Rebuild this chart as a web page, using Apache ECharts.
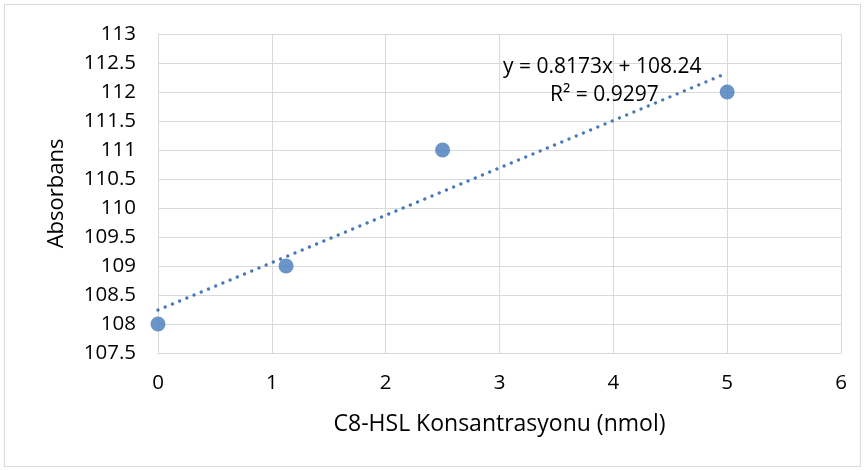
<!DOCTYPE html>
<html>
<head>
<meta charset="utf-8">
<script src="https://cdn.jsdelivr.net/npm/echarts@6/dist/echarts.min.js"></script>
<style>
  html, body { margin: 0; padding: 0; background: #fff; }
  .frame {
    position: absolute; left: 4px; top: 4px; width: 857px; height: 463px;
    border: 1px solid #d9d9d9; box-sizing: border-box;
  }
  #chart { position: absolute; left: 0; top: 0; width: 866px; height: 470px; }
</style>
</head>
<body>
<div class="frame"></div>
<div id="chart"></div>
<script>
// data
const concentrations = [0, 1.125, 2.5, 5];
const absorbance = [108, 109, 111, 112];
const trendSlope = 0.8173;
const trendIntercept = 108.24;
const trendLabel = ['y = 0.8173x + 108.24', 'R² = 0.9297'];

const font = "'Open Sans', sans-serif";
const blue = '#4679bb';

let points = concentrations.map((x, i) => [x, absorbance[i]]);
let xFirst = concentrations[0];
let xLast = concentrations[concentrations.length - 1];
let trendLine = [
  [xFirst, trendSlope * xFirst + trendIntercept],
  [xLast, trendSlope * xLast + trendIntercept]
];

let myChart = echarts.init(document.getElementById('chart'));
let option = {
  animation: false,
  grid: { left: 158, right: 25, top: 34, bottom: 117 },
  xAxis: {
    type: 'value',
    min: 0, max: 6, interval: 1,
    name: 'C8-HSL Konsantrasyonu (nmol)',
    nameLocation: 'middle',
    nameGap: 60,
    nameTextStyle: { fontFamily: font, fontSize: 23, color: '#000' },
    axisLine: { show: true, lineStyle: { color: '#d9d9d9', width: 1 } },
    axisTick: { show: false },
    axisLabel: { fontFamily: font, fontSize: 20.5, color: '#000', margin: 20 },
    splitLine: { show: true, lineStyle: { color: '#d9d9d9', width: 1 } }
  },
  yAxis: {
    type: 'value',
    min: 107.5, max: 113, interval: 0.5,
    name: 'Absorbans',
    nameLocation: 'middle',
    nameGap: 90,
    nameTextStyle: { fontFamily: font, fontSize: 22, color: '#000' },
    axisLine: { show: true, lineStyle: { color: '#d9d9d9', width: 1 } },
    axisTick: { show: false },
    axisLabel: { fontFamily: font, fontSize: 20.5, color: '#000', margin: 22 },
    splitLine: { show: true, lineStyle: { color: '#d9d9d9', width: 1 } }
  },
  series: [{
    type: 'line',
    data: trendLine,
    symbol: 'none',
    lineStyle: { color: blue, width: 3.3, type: [0.01, 7.8], cap: 'round' },
    z: 2
  }, {
    type: 'scatter',
    data: points,
    symbol: 'circle',
    symbolSize: 15,
    itemStyle: { color: blue },
    z: 3
  }],
  graphic: [{
    type: 'text',
    left: 503, top: 57,
    z: 10,
    style: { text: trendLabel[0], font: '21px ' + font, fill: '#000' }
  }, {
    type: 'text',
    left: 550, top: 85,
    z: 10,
    style: { text: trendLabel[1], font: '21px ' + font, fill: '#000' }
  }]
};
myChart.setOption(option);
</script>
</body>
</html>
